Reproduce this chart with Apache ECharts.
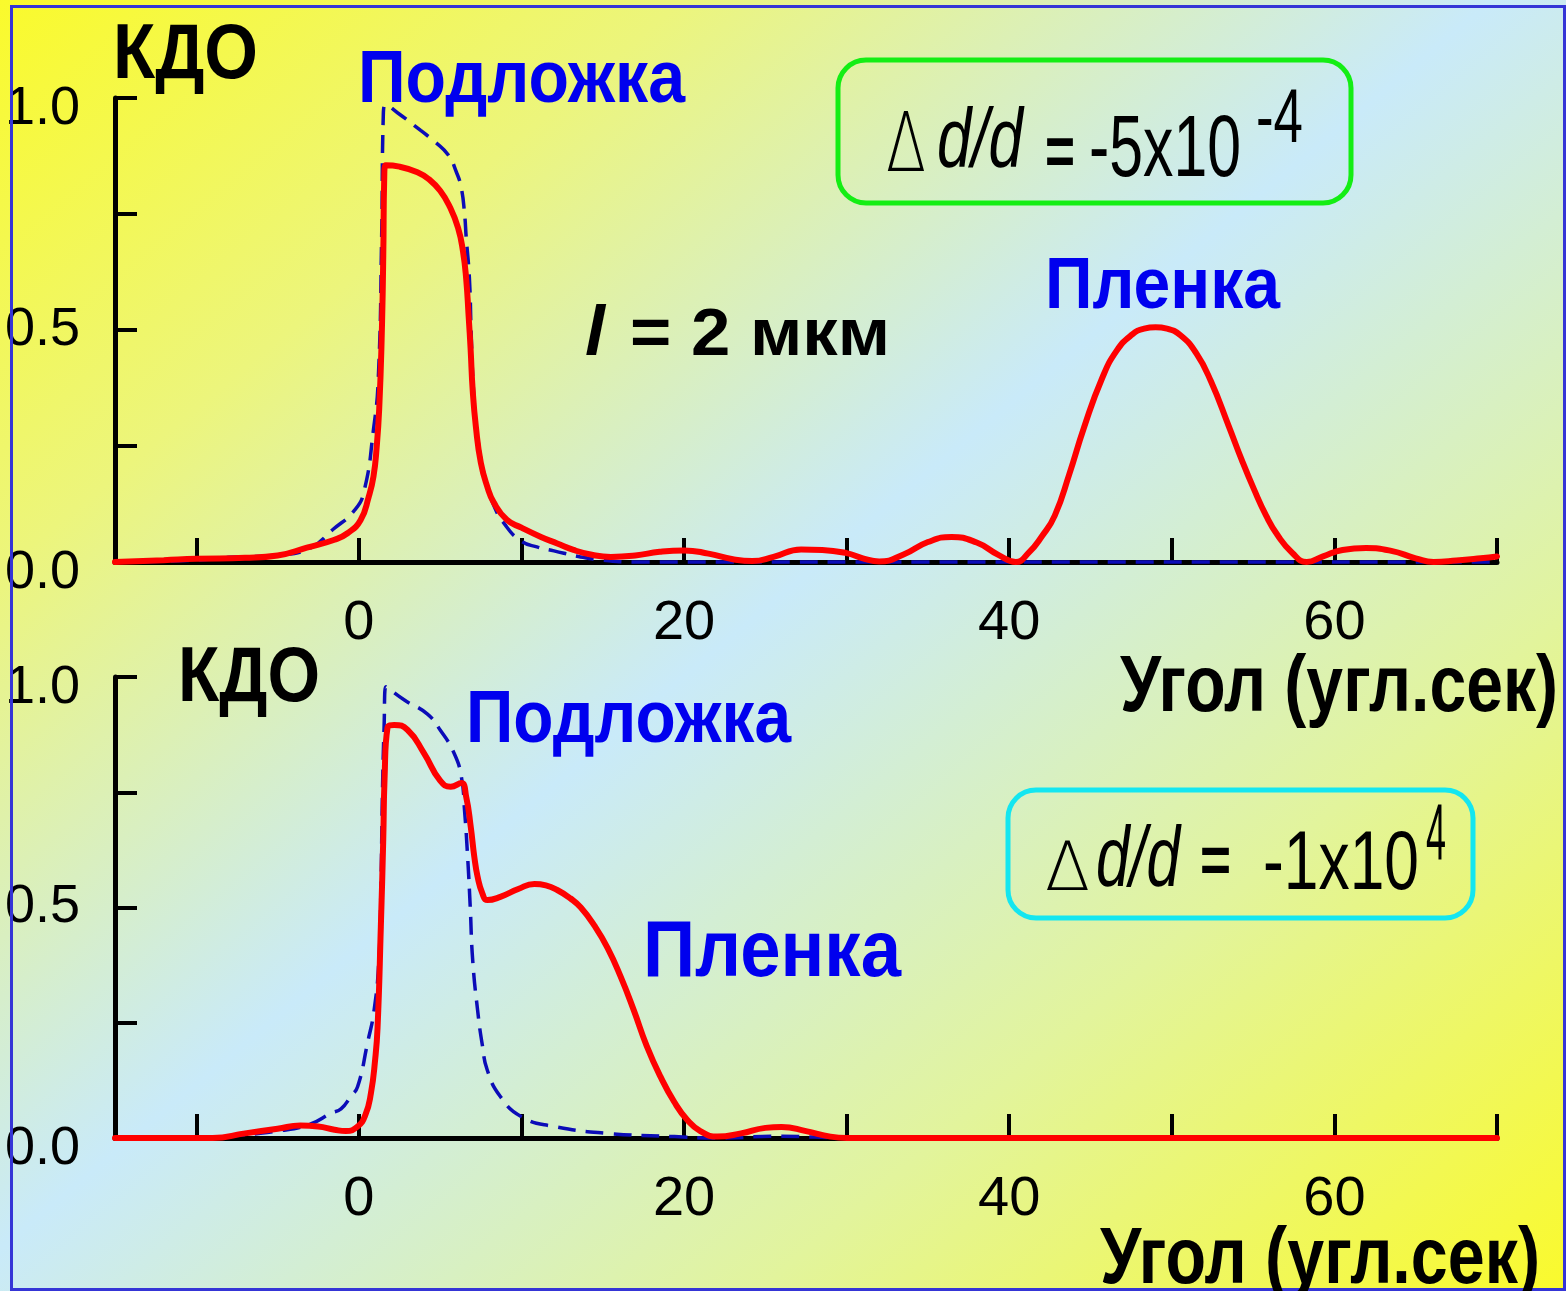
<!DOCTYPE html>
<html>
<head>
<meta charset="utf-8">
<title>КДО</title>
<script src="https://cdn.jsdelivr.net/npm/echarts@6/dist/echarts.min.js"></script>
<style>
  html, body { margin: 0; padding: 0; }
  #chart { width: 1566px; height: 1291px; }
</style>
</head>
<body>
<div id="chart"></div>
<script>
// ось X: угол (угл.сек), ось Y: КДО
var xTicks = [-10, 0, 10, 20, 30, 40, 50, 60, 70];
var xLabels = [0, 20, 40, 60];
var yTicks = [0.25, 0.5, 0.75, 1.0];
var yLabels = [0, 0.5, 1.0];

// верхний график: Δd/d = -5x10^-4, l = 2 мкм
var topFilm = [
  [-15, 0.0], [-12, 0.004], [-10, 0.007], [-7, 0.009], [-5, 0.014], [-3.2, 0.031],
  [-1.5, 0.048], [-0.7, 0.062], [0.1, 0.09], [0.6, 0.14], [0.9, 0.185], [1.1, 0.25],
  [1.25, 0.33], [1.4, 0.48], [1.5, 0.66], [1.56, 0.83], [1.65, 0.855], [2.5, 0.852],
  [3.6, 0.84], [4.3, 0.825], [5.0, 0.8], [5.6, 0.765], [6.1, 0.72], [6.4, 0.67],
  [6.6, 0.61], [6.75, 0.53], [6.87, 0.46], [7.0, 0.37], [7.2, 0.29], [7.5, 0.214],
  [7.9, 0.162], [8.3, 0.128], [9.1, 0.091], [10, 0.074], [11.2, 0.054], [12.2, 0.04],
  [13.2, 0.026], [14.4, 0.015], [15.5, 0.011], [17, 0.014], [18.5, 0.022], [20, 0.025],
  [21.5, 0.018], [23, 0.006], [24.2, 0.002], [25.5, 0.011], [27.2, 0.027], [28.5, 0.026],
  [30, 0.019], [31, 0.008], [32, 0.001], [33.5, 0.016], [35, 0.043], [36.45, 0.054],
  [38, 0.042], [39.3, 0.016], [40.4, 0.0], [41.2, 0.02], [42, 0.055], [42.8, 0.1],
  [43.7, 0.19], [44.6, 0.29], [45.7, 0.395], [46.6, 0.455], [47.55, 0.49], [48.3, 0.503],
  [49, 0.506], [49.7, 0.503], [50.55, 0.488], [51.5, 0.45], [52.4, 0.39], [53.5, 0.293],
  [54.3, 0.22], [55.05, 0.157], [55.8, 0.1], [56.5, 0.058], [57.4, 0.02], [58.3, 0.0],
  [59.3, 0.012], [60.5, 0.026], [61.95, 0.03], [63.5, 0.024], [65, 0.008], [66.1, 0.0],
  [67.5, 0.003], [69, 0.008], [70, 0.012]
];
var topSubstrate = [
  [-15, 0.0], [-10, 0.004], [-8, 0.01], [-5, 0.015], [-3, 0.03], [-1.6, 0.07],
  [-0.3, 0.11], [0.3, 0.15], [0.9, 0.286], [1.2, 0.4], [1.4, 0.7], [1.5, 0.96],
  [1.65, 0.985], [2.5, 0.965], [3.8, 0.93], [4.7, 0.905], [5.5, 0.877], [6.0, 0.84],
  [6.3, 0.806], [6.5, 0.75], [6.6, 0.7], [6.8, 0.61], [6.9, 0.5], [7.05, 0.37],
  [7.3, 0.27], [7.7, 0.19], [8.2, 0.13], [9, 0.08], [10, 0.045], [11, 0.032],
  [12, 0.024], [13.5, 0.012], [15, 0.004], [17, 0.0], [40, 0.0], [70, 0.0]
];

// нижний график: Δd/d = -1x10^4
var bottomFilm = [
  [-15, 0.0], [-11, 0.0], [-9, 0.0], [-7, 0.01], [-5, 0.02], [-3.6, 0.027],
  [-2.5, 0.025], [-1.5, 0.018], [-0.8, 0.015], [-0.08, 0.025], [0.4, 0.05], [0.74, 0.097],
  [1.0, 0.17], [1.15, 0.24], [1.35, 0.458], [1.5, 0.65], [1.58, 0.78], [1.76, 0.89],
  [2.17, 0.896], [3.0, 0.885], [4.0, 0.835], [5.0, 0.775], [5.65, 0.762], [6.3, 0.77],
  [6.6, 0.74], [6.88, 0.675], [7.1, 0.61], [7.3, 0.567], [7.6, 0.53], [7.9, 0.516],
  [8.7, 0.523], [9.8, 0.54], [10.8, 0.551], [11.5, 0.548], [12.2, 0.538], [13.0, 0.52],
  [13.65, 0.5], [14.5, 0.46], [15.3, 0.412], [16.1, 0.35], [16.9, 0.278], [17.7, 0.2],
  [18.55, 0.133], [19.4, 0.078], [20.2, 0.039], [21, 0.015], [22.05, 0.003], [23.5, 0.01],
  [25, 0.022], [26, 0.024], [27.5, 0.015], [29, 0.003], [30, 0.0], [50, 0.0], [70, 0.0]
];
var bottomSubstrate = [
  [-15, 0.0], [-10, 0.0], [-8, 0.004], [-5, 0.015], [-3, 0.03], [-1.7, 0.054],
  [-1.1, 0.063], [-0.5, 0.09], [-0.08, 0.111], [0.53, 0.206], [0.94, 0.278], [1.23, 0.386],
  [1.35, 0.53], [1.45, 0.75], [1.55, 0.89], [1.66, 0.979], [2.8, 0.95], [4.2, 0.92],
  [5.0, 0.885], [5.85, 0.835], [6.3, 0.784], [6.5, 0.71], [6.7, 0.603], [6.85, 0.5],
  [7.0, 0.386], [7.3, 0.278], [7.6, 0.2], [7.9, 0.147], [8.7, 0.09], [10.0, 0.046],
  [12.0, 0.025], [15.3, 0.01], [19.4, 0.003], [22, 0.0], [26, 0.004], [28, 0.002],
  [30, 0.0], [50, 0.0], [70, 0.0]
];

var NARROW = '"Liberation Sans Narrow", "Liberation Sans", Arial, sans-serif';
var THIN = '"DejaVu Sans", sans-serif';
var BLUE = '#0000ee';
var RED = '#ff0000';
var DASH = '#0c0cb8';

// подписи: left/width по картинке, базовая линия и кегль
var texts = [
  { text: 'КДО', left: 113, base: 84, width: 145, size: 77 },
  { text: 'Подложка', left: 358, base: 107, width: 327, size: 74, color: BLUE },
  { text: 'l', left: 585, base: 360, width: 20, size: 70, italic: true },
  { text: '= 2 мкм', left: 630, base: 360, width: 260, size: 67 },
  { text: 'Пленка', left: 1045, base: 313, width: 235, size: 73, color: BLUE },
  { text: 'Угол (угл.сек)', left: 1120, base: 717, width: 438, size: 80 },
  { text: 'Δ', left: 886, base: 178, width: 40, size: 82, weight: 200, family: THIN },
  { text: 'd/d', left: 937, base: 173, width: 86, size: 83, weight: 'normal', italic: true },
  { text: '=', left: 1045, base: 180, width: 30, size: 70 },
  { text: '-5x10', left: 1089, base: 183, width: 152, size: 88, weight: 'normal' },
  { text: '-4', left: 1256, base: 148, width: 47, size: 76, weight: 'normal' },

  { text: 'КДО', left: 178, base: 707, width: 142, size: 77 },
  { text: 'Подложка', left: 466, base: 747, width: 325, size: 74, color: BLUE },
  { text: 'Пленка', left: 643, base: 982, width: 258, size: 80, color: BLUE },
  { text: 'Угол (угл.сек)', left: 1100, base: 1289, width: 440, size: 80 },
  { text: 'Δ', left: 1045, base: 896, width: 45, size: 68, weight: 200, family: THIN },
  { text: 'd/d', left: 1096, base: 892, width: 84, size: 86, weight: 'normal', italic: true },
  { text: '=', left: 1200, base: 888, width: 31, size: 66 },
  { text: '-1x10', left: 1263, base: 895, width: 156, size: 84, weight: 'normal' },
  { text: '4', left: 1426, base: 865, width: 20, size: 80, weight: 'normal' }
];

var measure = document.createElement('canvas').getContext('2d');
function fitText(t) {
  var family = t.family || NARROW;
  var weight = t.weight || 'bold';
  var fstyle = t.italic ? 'italic' : 'normal';
  measure.font = fstyle + ' ' + weight + ' ' + t.size + 'px ' + family;
  var w = measure.measureText(t.text).width;
  return {
    type: 'text',
    x: t.left,
    y: t.base - 0.35 * t.size,
    scaleX: t.width / w,
    z: 10,
    silent: true,
    style: {
      text: t.text,
      fill: t.color || '#000',
      fontFamily: family,
      fontWeight: weight,
      fontStyle: fstyle,
      fontSize: t.size,
      align: 'left',
      verticalAlign: 'middle'
    }
  };
}

function xAxisOf(i) {
  return {
    type: 'value',
    gridIndex: i,
    min: -15,
    max: 70,
    splitLine: { show: false },
    axisLine: { lineStyle: { color: '#000', width: 5 } },
    axisTick: { inside: true, length: 24, customValues: xTicks, lineStyle: { color: '#000', width: 4 } },
    axisLabel: {
      customValues: xLabels,
      margin: 34,
      color: '#000',
      fontFamily: NARROW,
      fontSize: 56
    }
  };
}

function yAxisOf(i) {
  return {
    type: 'value',
    gridIndex: i,
    min: 0,
    max: 1,
    splitLine: { show: false },
    axisLine: { onZero: false, lineStyle: { color: '#000', width: 5 } },
    axisTick: { inside: true, length: 22, customValues: yTicks, lineStyle: { color: '#000', width: 4 } },
    axisLabel: {
      customValues: yLabels,
      margin: 35,
      color: '#000',
      fontFamily: NARROW,
      fontSize: 54,
      formatter: function (v) {
        var s = v.toFixed(1);
        // 0.0 и 1.0 стоят чуть ниже своих засечек
        return v === 0.5 ? s : '{lo|' + s + '}';
      },
      rich: {
        lo: { fontFamily: NARROW, fontSize: 54, color: '#000', padding: [22, 0, 0, 0] }
      }
    }
  };
}

function lineOf(i, data, dashed) {
  return {
    type: 'line',
    xAxisIndex: i,
    yAxisIndex: i,
    data: data,
    showSymbol: false,
    smooth: 0.5,
    clip: false,
    silent: true,
    z: dashed ? 3 : 4,
    lineStyle: dashed
      ? { color: DASH, width: 3.5, type: [18, 10] }
      : { color: RED, width: 6, join: 'round', cap: 'round' }
  };
}

var chart = echarts.init(document.getElementById('chart'));
var graphics = [
  {
    type: 'rect', z: 5, silent: true,
    shape: { x: 11.5, y: 6.5, width: 1553, height: 1283 },
    style: { fill: 'none', stroke: '#3535d6', lineWidth: 3 }
  },
  {
    type: 'rect', z: 5, silent: true,
    shape: { x: 838, y: 60, width: 513, height: 143, r: 28 },
    style: { fill: 'none', stroke: '#14ee14', lineWidth: 5 }
  },
  {
    type: 'rect', z: 5, silent: true,
    shape: { x: 1008, y: 790, width: 465, height: 128, r: 28 },
    style: { fill: 'none', stroke: '#14e6f0', lineWidth: 5 }
  }
].concat(texts.map(fitText));

chart.setOption({
  animation: false,
  backgroundColor: new echarts.graphic.LinearGradient(0, 0, 1280, 1530, [
    { offset: 0, color: '#fafa2c' },
    { offset: 0.22, color: '#ecf57c' },
    { offset: 0.48, color: '#c9eaf9' },
    { offset: 0.74, color: '#e2f49c' },
    { offset: 1, color: '#fafa2c' }
  ], true),
  grid: [
    { left: 115, top: 98, width: 1382, height: 464, outerBoundsMode: 'none' },
    { left: 115, top: 677, width: 1382, height: 461, outerBoundsMode: 'none' }
  ],
  xAxis: [xAxisOf(0), xAxisOf(1)],
  yAxis: [yAxisOf(0), yAxisOf(1)],
  series: [
    lineOf(0, topSubstrate, true),
    lineOf(0, topFilm, false),
    lineOf(1, bottomSubstrate, true),
    lineOf(1, bottomFilm, false)
  ],
  graphic: graphics
});
</script>
</body>
</html>
